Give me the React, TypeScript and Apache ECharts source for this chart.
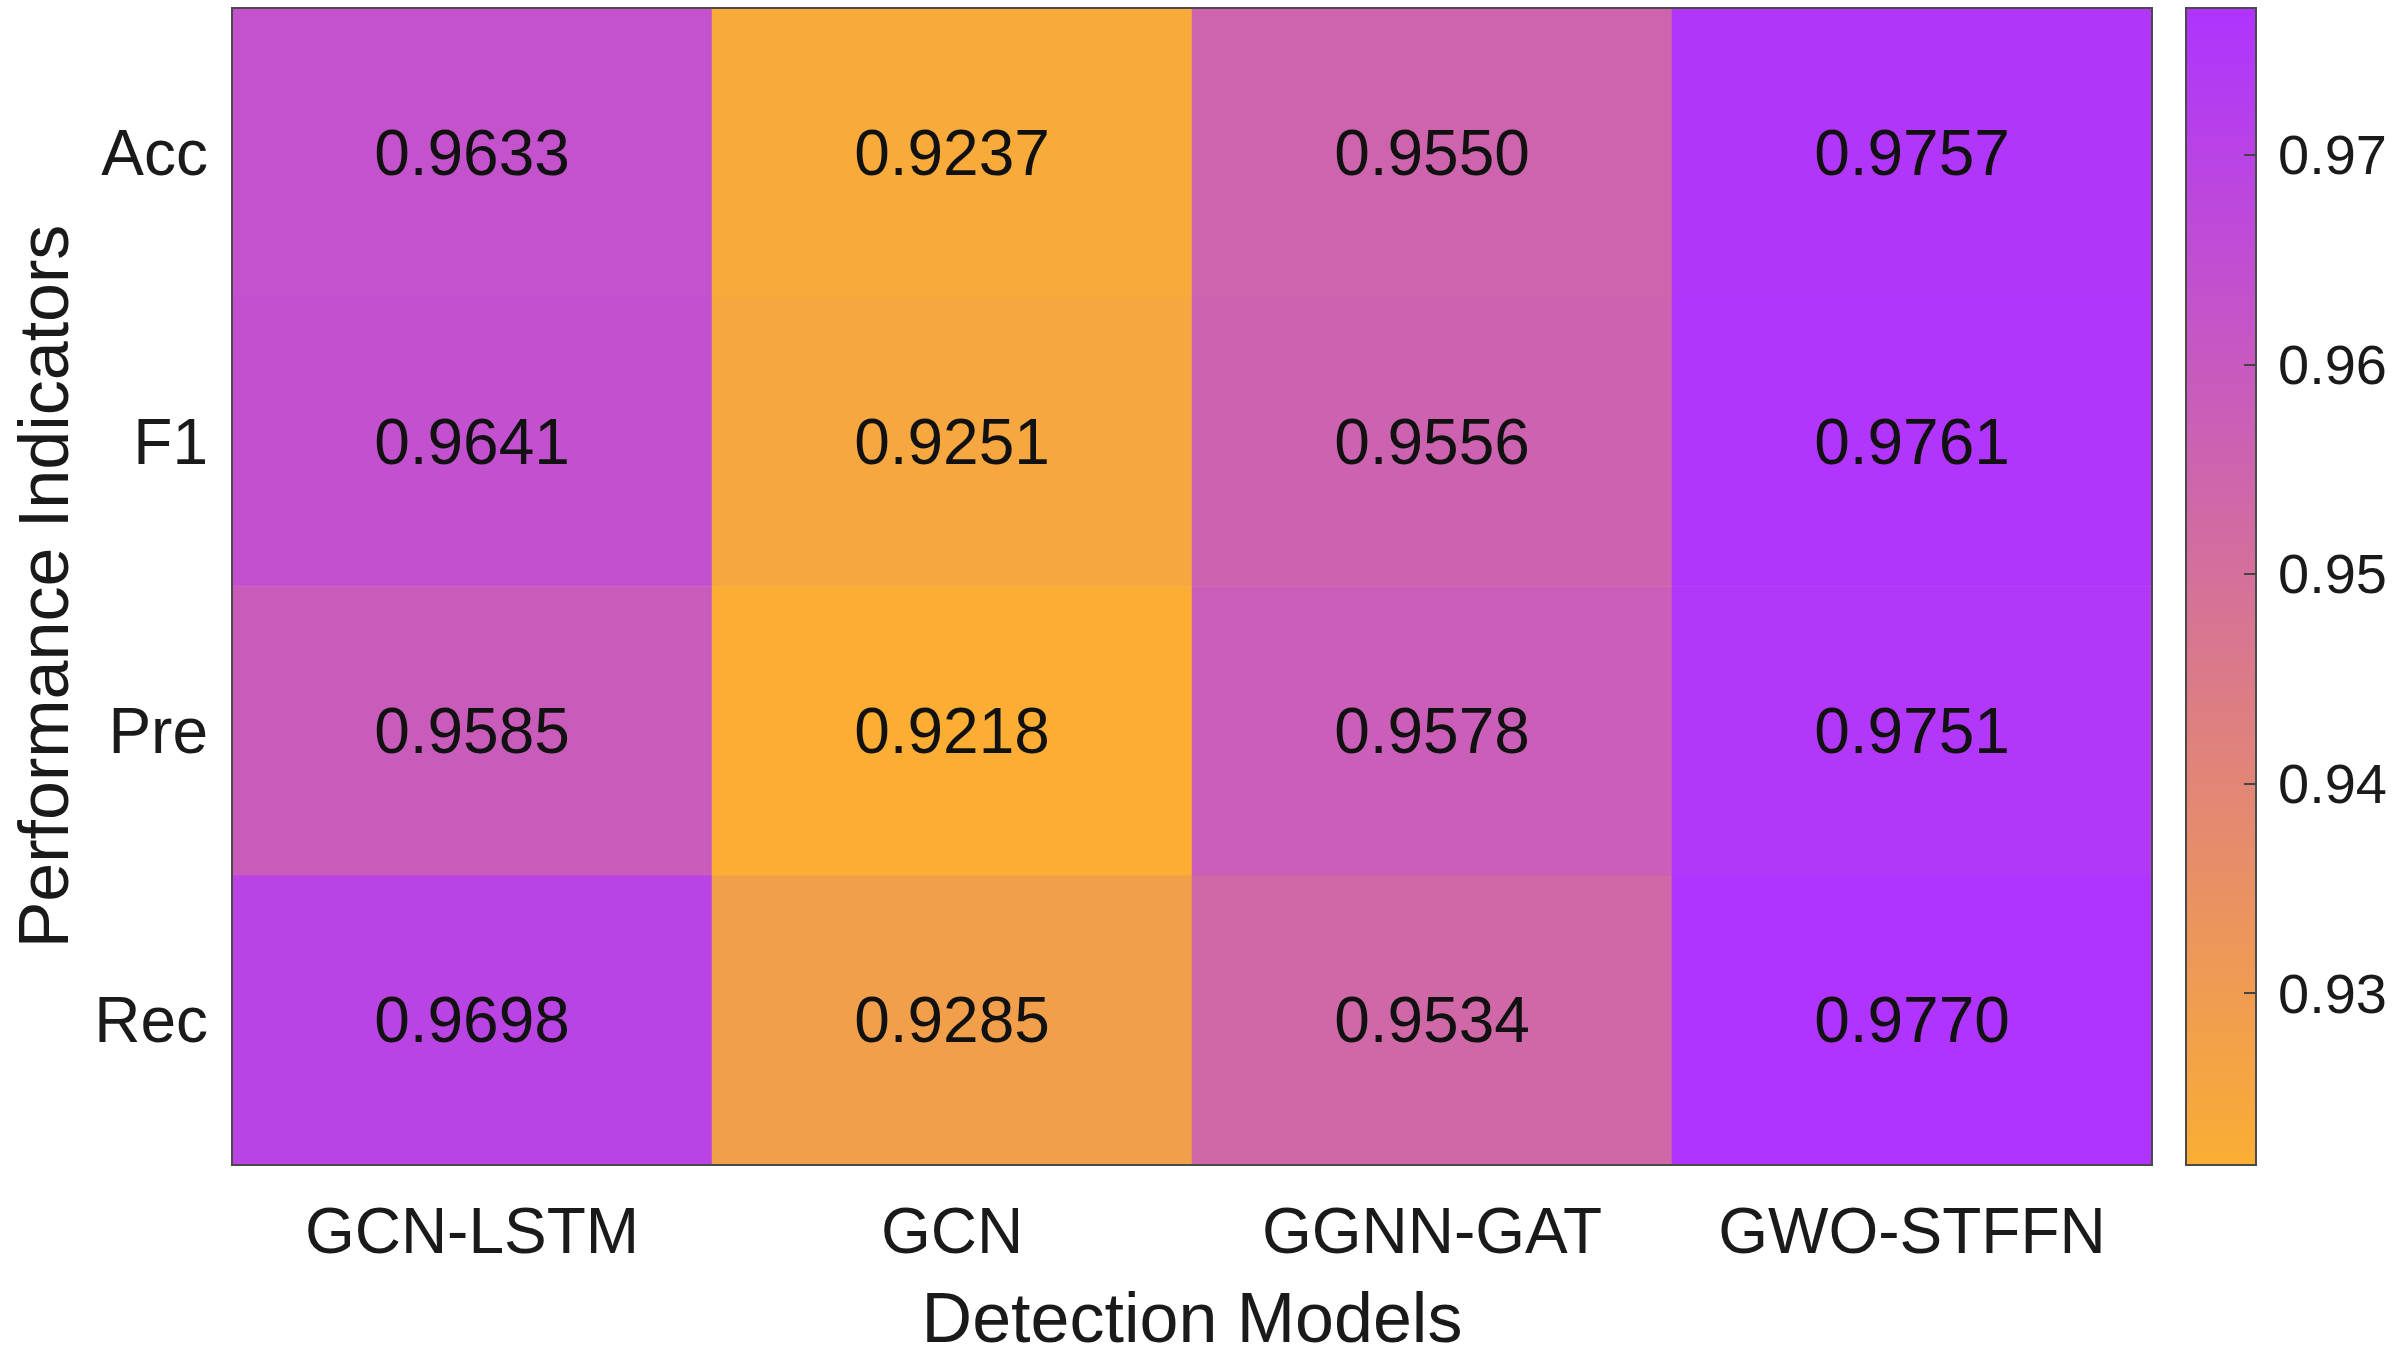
import React, { useEffect, useRef } from "react";
import * as echarts from "echarts";

const models = ["GCN-LSTM", "GCN", "GGNN-GAT", "GWO-STFFN"];
const indicators = ["Acc", "F1", "Pre", "Rec"];
const accValues = [0.9633, 0.9237, 0.955, 0.9757];
const f1Values = [0.9641, 0.9251, 0.9556, 0.9761];
const preValues = [0.9585, 0.9218, 0.9578, 0.9751];
const recValues = [0.9698, 0.9285, 0.9534, 0.977];
const colorbarTicks = [0.93, 0.94, 0.95, 0.96, 0.97];

const LOW = "#FBAE33";
const HIGH = "#B033FF";
const FONT = "Liberation Sans, Arial, sans-serif";

export default function App() {
  const ref = useRef<HTMLDivElement>(null);
  useEffect(() => {
    if (!ref.current) return;
    const chart = echarts.init(ref.current, null, { renderer: "svg" });
    const rows = [accValues, f1Values, preValues, recValues];
    const data: [number, number, number][] = [];
    rows.forEach((r, yi) => r.forEach((v, xi) => data.push([xi, yi, v])));
    const all = data.map((d) => d[2]);
    const vmin = Math.min(...all);
    const vmax = Math.max(...all);

    chart.setOption({
      animation: false,
      backgroundColor: "#ffffff",
      textStyle: { fontFamily: FONT },
      grid: [
        {
          left: 232, right: 245, top: 8, bottom: 195,
          outerBoundsMode: "none", containLabel: false,
          show: true, z: 5, backgroundColor: "transparent", borderColor: "#4a4a4a", borderWidth: 2,
        },
        { left: 2186, right: 141, top: 8, bottom: 195, outerBoundsMode: "none", containLabel: false, show: false },
      ],
      xAxis: [
        {
          type: "category",
          gridIndex: 0,
          data: models,
          axisLine: { show: false },
          axisTick: { show: false },
          splitLine: { show: false },
          axisLabel: { interval: 0, fontSize: 64, color: "#1a1a1a", margin: 34, fontFamily: FONT },
          name: "Detection Models",
          nameLocation: "middle",
          nameGap: 118,
          nameTextStyle: { fontSize: 70, color: "#1a1a1a", fontFamily: FONT },
        },
        { type: "category", gridIndex: 1, data: ["c"], show: false },
      ],
      yAxis: [
        {
          type: "category",
          gridIndex: 0,
          data: indicators,
          inverse: true,
          axisLine: { show: false },
          axisTick: { show: false },
          splitLine: { show: false },
          axisLabel: { interval: 0, fontSize: 64, color: "#1a1a1a", margin: 24, fontFamily: FONT },
          name: "Performance Indicators",
          nameLocation: "middle",
          nameGap: 152,
          nameTextStyle: { fontSize: 70, color: "#1a1a1a", fontFamily: FONT, lineHeight: 72 },
        },
        {
          type: "value",
          gridIndex: 1,
          position: "right",
          min: vmin,
          max: vmax,
          z: 10,
          axisLine: { show: false },
          splitLine: { show: false },
          axisTick: {
            show: true,
            inside: true,
            length: 12,
            lineStyle: { color: "#444", width: 2 },
            customValues: colorbarTicks,
          },
          axisLabel: {
            fontSize: 56,
            color: "#1a1a1a",
            margin: 22,
            fontFamily: FONT,
            customValues: colorbarTicks,
            formatter: (v: number) => v.toFixed(2),
          },
        },
      ],
      visualMap: {
        show: false,
        type: "continuous",
        min: vmin,
        max: vmax,
        seriesIndex: 0,
        dimension: 2,
        inRange: { color: [LOW, HIGH] },
      },
      graphic: [
        {
          type: "rect",
          z: 1,
          shape: { x: 2186, y: 8, width: 70, height: 1157 },
          style: {
            fill: {
              type: "linear",
              x: 0,
              y: 1,
              x2: 0,
              y2: 0,
              colorStops: [
                { offset: 0, color: LOW },
                { offset: 1, color: HIGH },
              ],
            },
            stroke: "#4a4a4a",
            lineWidth: 2,
          },
        },
      ],
      series: [
        {
          type: "heatmap",
          xAxisIndex: 0,
          yAxisIndex: 0,
          data,
          itemStyle: { borderWidth: 0 },
          label: {
            show: true,
            fontSize: 64,
            color: "#111",
            fontFamily: FONT,
            formatter: (p: any) => (p.value[2] as number).toFixed(4),
          },
        },
      ],
    });
    return () => chart.dispose();
  }, []);
  return <div ref={ref} style={{ width: 2397, height: 1360, position: "absolute", left: 0, top: 0 }} />;
}
